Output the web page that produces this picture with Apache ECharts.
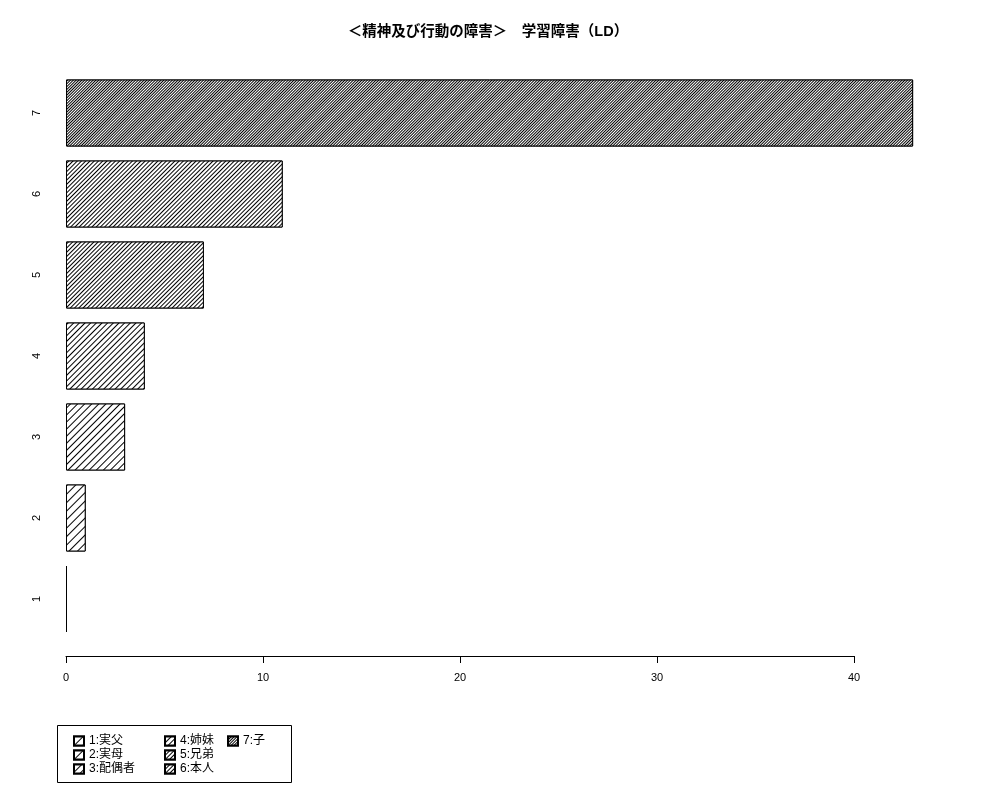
<!DOCTYPE html>
<html>
<head>
<meta charset="utf-8">
<script src="https://cdn.jsdelivr.net/npm/echarts@6/dist/echarts.min.js"></script>
<style>
  html, body { margin: 0; padding: 0; background: #fff; }
  #main { width: 1000px; height: 800px; }
</style>
</head>
<body>
<div id="main"></div>
<script>
// データ
const categories = ["1", "2", "3", "4", "5", "6", "7"];
const legendNames = ["1:実父", "2:実母", "3:配偶者", "4:姉妹", "5:兄弟", "6:本人", "7:子"];
const values = [0, 1, 3, 4, 7, 11, 43];
const xTicks = [0, 10, 20, 30, 40];

// 斜線の間隔（1 が一番まばら、7 が一番細かい）
const hatchGaps = [5, 4.8, 3.3, 2.6, 2, 1.5, 1];

(function () {
  let myChart = echarts.init(document.getElementById("main"));
  const latin = "Liberation Sans, Noto Sans CJK JP, sans-serif";

  // 系列ごとに一本だけ値を入れて、重ねて描く
  let series = categories.map(function (c, i) {
    return {
      name: legendNames[i],
      type: "bar",
      xAxisIndex: 0,
      yAxisIndex: 0,
      barWidth: 67,
      barGap: "-100%",
      barMinHeight: i === 0 ? 1 : 0,
      data: categories.map(function (cc, j) {
        return j === i ? values[i] : "-";
      }),
      itemStyle: {
        color: "#fff",
        borderColor: "#000",
        borderWidth: 1,
        decal: {
          symbol: "rect",
          symbolSize: 1,
          dashArrayX: [1, 0],
          dashArrayY: [1, hatchGaps[i]],
          rotation: -Math.PI / 4,
          color: "#000",
          backgroundColor: "#fff",
        },
      },
      emphasis: { disabled: true },
      animation: false,
    };
  });

  let legendCommon = {
    orient: "vertical",
    icon: "rect",
    itemWidth: 10,
    itemHeight: 9,
    itemGap: 2,
    selectedMode: false,
    textStyle: { fontFamily: latin, fontSize: 12, color: "#000", lineHeight: 12 },
  };

  let option = {
    backgroundColor: "#fff",
    animation: false,
    title: {
      text: "＜精神及び行動の障害＞　学習障害（LD）",
      left: 483,
      textAlign: "center",
      top: 20,
      textStyle: { fontFamily: latin, fontSize: 14.5, fontWeight: "bold", color: "#000" },
    },
    legend: [
      Object.assign({ left: 68, top: 730, data: legendNames.slice(0, 3) }, legendCommon),
      Object.assign({ left: 159, top: 730, data: legendNames.slice(3, 6) }, legendCommon),
      Object.assign({ left: 222, top: 730, data: legendNames.slice(6) }, legendCommon),
    ],
    graphic: [
      {
        type: "rect",
        shape: { x: 57.5, y: 725.5, width: 234, height: 57 },
        style: { fill: "none", stroke: "#000", lineWidth: 1 },
      },
    ],
    grid: [
      { left: 66, right: 53, top: 72.5, height: 567 },
      { left: 66, right: 146, top: 655, height: 1 },
    ],
    xAxis: [
      {
        gridIndex: 0,
        type: "value",
        min: 0,
        max: 44.72,
        show: false,
      },
      {
        gridIndex: 1,
        type: "value",
        min: xTicks[0],
        max: xTicks[xTicks.length - 1],
        interval: 10,
        axisLine: { show: true, lineStyle: { color: "#000", width: 1 } },
        axisTick: { show: true, length: 7, lineStyle: { color: "#000" } },
        axisLabel: { margin: 16, fontFamily: latin, fontSize: 11, color: "#000" },
        splitLine: { show: false },
      },
    ],
    yAxis: [
      {
        gridIndex: 0,
        type: "category",
        data: categories,
        axisLine: { show: false },
        axisTick: { show: false },
        axisLabel: { rotate: 90, margin: 24, fontFamily: latin, fontSize: 11, color: "#000" },
      },
      {
        gridIndex: 1,
        type: "value",
        show: false,
      },
    ],
    series: series,
  };

  myChart.setOption(option);
  window.addEventListener("resize", function () {
    myChart.resize();
  });
})();
</script>
</body>
</html>
